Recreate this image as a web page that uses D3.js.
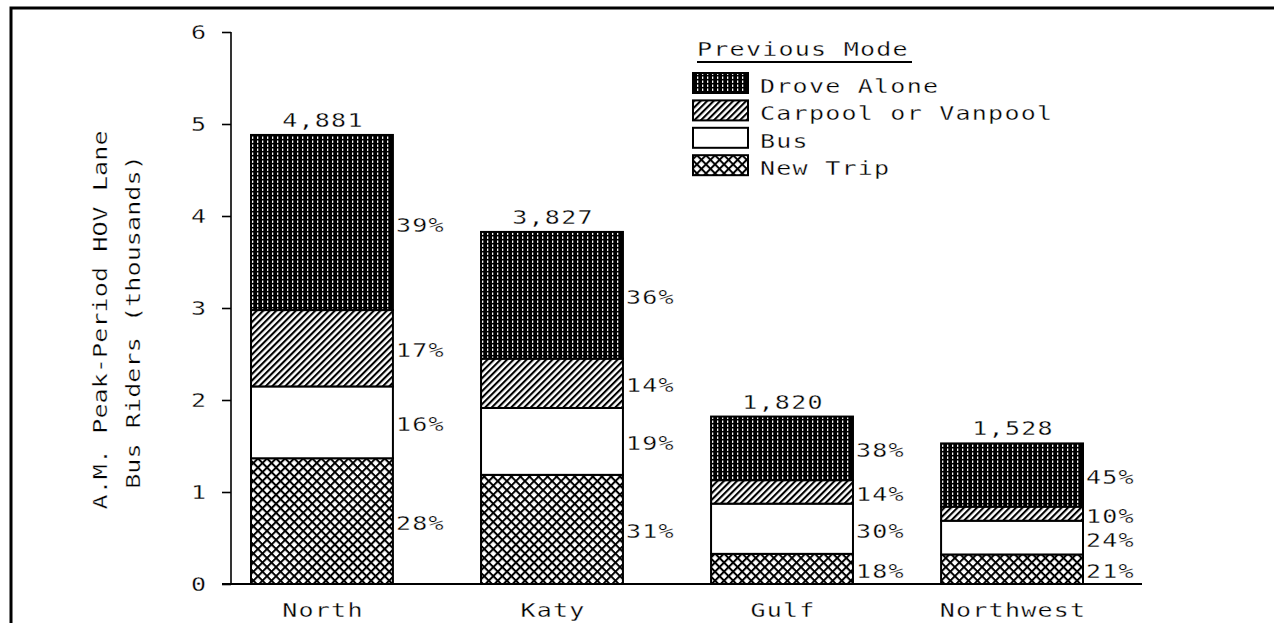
<!DOCTYPE html>
<html>
<head>
<meta charset="utf-8">
<script src="https://cdn.jsdelivr.net/npm/d3@7"></script>
<style>
  html, body { margin: 0; padding: 0; background: #fff; }
  svg text { font-family: "DejaVu Sans Mono", monospace; fill: #000; }
</style>
</head>
<body>
<svg id="chart" width="1274" height="623"></svg>
<script>
// Corridor names (x categories)
const categories = ["North", "Katy", "Gulf", "Northwest"];
// Total A.M. peak-period riders per corridor
const totals = [4881, 3827, 1820, 1528];
// Share of riders by previous mode (percent), stacked bottom to top
const newTripPct = [28, 31, 18, 21];
const busPct = [16, 19, 30, 24];
const carpoolPct = [17, 14, 14, 10];
const droveAlonePct = [39, 36, 38, 45];
// Y axis ticks (thousands)
const yTicks = [0, 1, 2, 3, 4, 5, 6];

const modeKeys = ["New Trip", "Bus", "Carpool or Vanpool", "Drove Alone"];
const legendOrder = ["Drove Alone", "Carpool or Vanpool", "Bus", "New Trip"];
const pctByMode = {
  "New Trip": newTripPct,
  "Bus": busPct,
  "Carpool or Vanpool": carpoolPct,
  "Drove Alone": droveAlonePct
};

// rows for d3.stack, values in thousands of riders
const rows = categories.map((c, i) => {
  const r = { category: c, total: totals[i] };
  modeKeys.forEach(k => { r[k] = totals[i] * pctByMode[k][i] / 100 / 1000; });
  return r;
});

const svg = d3.select("#chart");

// plotter-style lettering: wide monospace glyphs with thin strokes
const FONT_SIZE = 20;
const STRETCH = 1.25;
function label(parent, x, y, str, opts = {}) {
  const rot = opts.rotate ? ` rotate(${opts.rotate})` : "";
  const g = parent.append("g")
    .attr("transform", `translate(${x},${y})${rot} scale(${STRETCH},1)`);
  return g.append("text")
    .attr("font-size", opts.size || FONT_SIZE)
    .attr("letter-spacing", (opts.spacing != null ? opts.spacing : 1.0) + "px")
    .attr("text-anchor", opts.anchor || "start")
    .attr("dy", opts.dy || 0)
    .attr("stroke", "#fff")
    .attr("stroke-width", 0.3)
    .text(str);
}

// ---- fill patterns ----
const defs = svg.append("defs");

// Drove Alone: black with fine vertical white streaks
const pDA = defs.append("pattern").attr("id", "p-drove")
  .attr("patternUnits", "userSpaceOnUse").attr("width", 5).attr("height", 4);
pDA.append("rect").attr("width", 5).attr("height", 4).attr("fill", "#000");
pDA.append("rect").attr("x", 2).attr("y", 0.5).attr("width", 1.3).attr("height", 2.4).attr("fill", "#fff");

// Carpool: diagonal hatch
const pCP = defs.append("pattern").attr("id", "p-carpool")
  .attr("patternUnits", "userSpaceOnUse").attr("width", 4.6).attr("height", 4.6)
  .attr("patternTransform", "rotate(45)");
pCP.append("rect").attr("width", 4.6).attr("height", 4.6).attr("fill", "#fff");
pCP.append("rect").attr("width", 2.1).attr("height", 4.6).attr("fill", "#000");

// New Trip: cross hatch (diamonds)
const pNT = defs.append("pattern").attr("id", "p-newtrip")
  .attr("patternUnits", "userSpaceOnUse").attr("width", 6.4).attr("height", 6.4)
  .attr("patternTransform", "rotate(45)");
pNT.append("rect").attr("width", 6.4).attr("height", 6.4).attr("fill", "#fff");
pNT.append("rect").attr("width", 6.4).attr("height", 2).attr("fill", "#000");
pNT.append("rect").attr("width", 2).attr("height", 6.4).attr("fill", "#000");

const fills = {
  "Drove Alone": "url(#p-drove)",
  "Carpool or Vanpool": "url(#p-carpool)",
  "Bus": "#fff",
  "New Trip": "url(#p-newtrip)"
};

// ---- outer frame (top and left rules) ----
svg.append("path")
  .attr("d", "M11,623V8H1274")
  .attr("fill", "none").attr("stroke", "#000").attr("stroke-width", 3);

// ---- scales ----
const y = d3.scaleLinear().domain([0, 6]).range([584, 32]);
const x = d3.scaleBand().domain(categories).range([251, 1083])
  .paddingInner(0.383).paddingOuter(0);

// ---- y axis ----
const yAxis = d3.axisLeft(y).tickValues(yTicks).tickSize(9).tickFormat("");
const gy = svg.append("g").attr("transform", "translate(231,0)").call(yAxis);
gy.select(".domain").attr("stroke", "#000").attr("stroke-width", 1.6)
  .attr("d", `M0,${y(6)}V${y(0)}`);
gy.selectAll(".tick line").attr("stroke", "#000").attr("stroke-width", 1.6);
const tickLabels = svg.append("g");
yTicks.forEach(v => label(tickLabels, 206, y(v), String(v),
  { anchor: "end", dy: "0.36em", spacing: 0 }));

// baseline
svg.append("line")
  .attr("x1", 222).attr("x2", 1142)
  .attr("y1", y(0)).attr("y2", y(0))
  .attr("stroke", "#000").attr("stroke-width", 1.8);

// ---- y axis title ----
const title = svg.append("g");
label(title, 107, 320, "A.M. Peak-Period HOV Lane",
  { rotate: -90, anchor: "middle", spacing: 0.1 });
label(title, 140, 322, "Bus Riders (thousands)",
  { rotate: -90, anchor: "middle", spacing: 0.1 });

// ---- stacked bars ----
const series = d3.stack().keys(modeKeys)(rows);

const layers = svg.append("g").selectAll("g")
  .data(series).join("g")
  .attr("fill", d => fills[d.key]);

layers.selectAll("rect")
  .data(d => d.map(p => ({ key: d.key, p })))
  .join("rect")
  .attr("x", d => x(d.p.data.category))
  .attr("width", x.bandwidth())
  .attr("y", d => y(d.p[1]))
  .attr("height", d => y(d.p[0]) - y(d.p[1]))
  .attr("stroke", "#000")
  .attr("stroke-width", 2);

// percentage labels to the right of each segment
const pctLabels = svg.append("g");
series.forEach(s => {
  s.forEach(p => {
    const i = categories.indexOf(p.data.category);
    label(pctLabels, x(p.data.category) + x.bandwidth() + 3,
      (y(p[0]) + y(p[1])) / 2, pctByMode[s.key][i] + "%", { dy: "0.45em" });
  });
});

// totals above bars
const totalLabels = svg.append("g");
rows.forEach(d => label(totalLabels, x(d.category) + x.bandwidth() / 2 + 1,
  y(d.total / 1000) - 8, d3.format(",")(d.total), { anchor: "middle" }));

// category labels
const catLabels = svg.append("g");
categories.forEach(c => label(catLabels, x(c) + x.bandwidth() / 2 + 1, 617, c,
  { anchor: "middle" }));

// ---- legend ----
const legend = svg.append("g");
label(legend, 697, 56, "Previous Mode");
legend.append("line")
  .attr("x1", 697).attr("x2", 912).attr("y1", 62).attr("y2", 62)
  .attr("stroke", "#000").attr("stroke-width", 2);

legendOrder.forEach((key, i) => {
  const top = 73 + i * 27.4;
  legend.append("rect")
    .attr("x", 693).attr("y", top).attr("width", 55).attr("height", 20)
    .attr("fill", fills[key]).attr("stroke", "#000").attr("stroke-width", 2);
  label(legend, 760, top + 20, key);
});
</script>
</body>
</html>
